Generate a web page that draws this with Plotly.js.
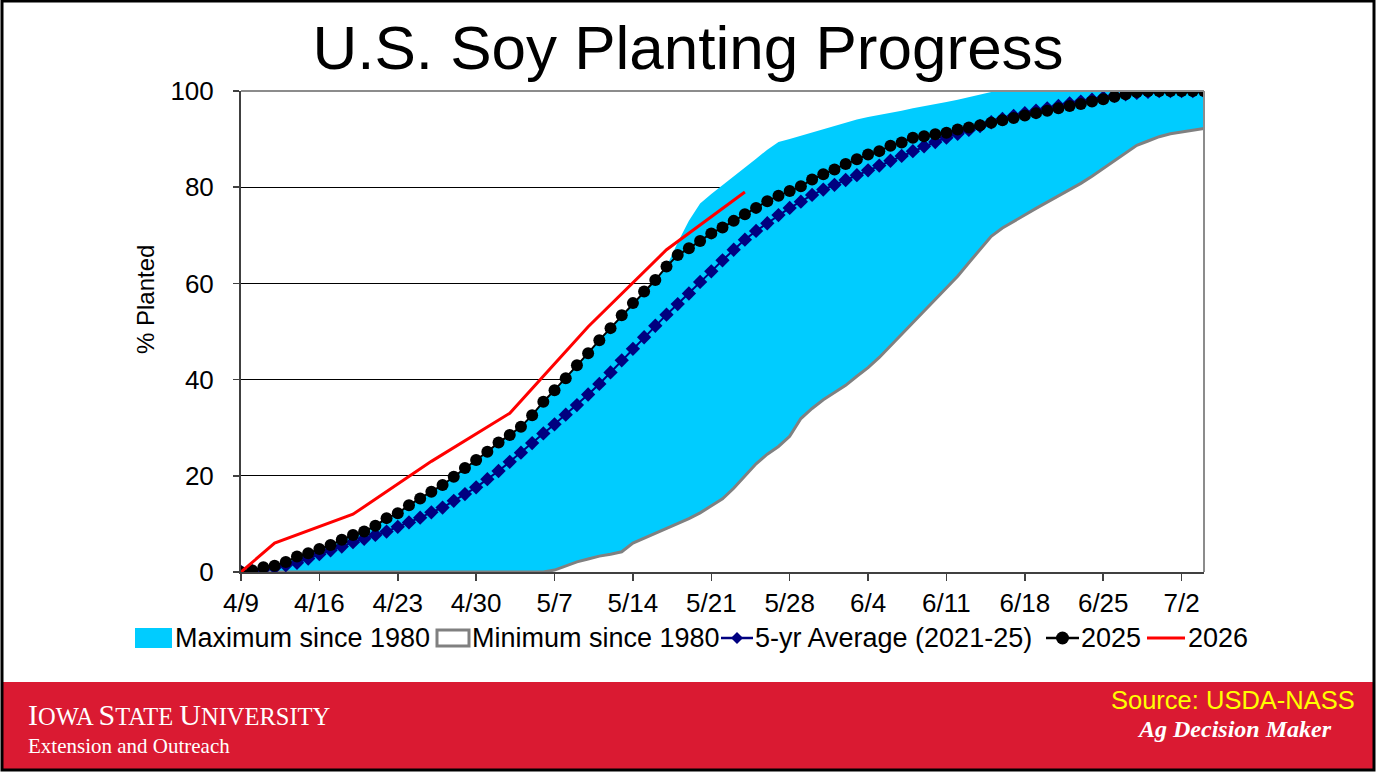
<!DOCTYPE html>
<html>
<head>
<meta charset="utf-8">
<script src="https://cdn.plot.ly/plotly-3.0.1.min.js"></script>
<style>
html,body{margin:0;padding:0;background:#fff;}
#chart{width:1376px;height:772px;}
</style>
</head>
<body>
<div id="chart"></div>
<script>
// ---- data (day offsets from 4/9) ----
const dayIndex = [0,1,2,3,4,5,6,7,8,9,10,11,12,13,14,15,16,17,18,19,20,21,22,23,24,25,26,27,28,29,30,31,32,33,34,35,36,37,38,39,40,41,42,43,44,45,46,47,48,49,50,51,52,53,54,55,56,57,58,59,60,61,62,63,64,65,66,67,68,69,70,71,72,73,74,75,76,77,78,79,80,81,82,83,84,85,86];
const tickDays = [0,7,14,21,28,35,42,49,56,63,70,77,84];
const tickLabels = ["4/9","4/16","4/23","4/30","5/7","5/14","5/21","5/28","6/4","6/11","6/18","6/25","7/2"];
const yTicks = [0,20,40,60,80,100];

const seriesNames = ["Maximum since 1980","Minimum since 1980","5-yr Average (2021-25)","2025","2026"];

const maxSince1980 = [0,0.3,1.0,1.3,2.1,3.2,3.9,4.8,5.6,6.7,7.7,8.4,9.6,11.2,12.2,13.9,15.3,16.7,18.1,19.8,21.6,23.3,25.0,26.9,28.5,30.2,32.6,35.4,37.8,40.3,43.0,45.5,48.2,50.7,53.4,55.9,58.3,60.7,63.5,
  68.5,73.0,76.6,78.6,80.4,82.2,84.1,85.9,87.8,89.4,90.0,90.7,91.4,92.1,92.7,93.4,94.1,94.6,95.0,95.5,95.9,96.4,96.8,97.3,97.7,98.2,98.7,99.2,99.8,
  100,100,100,100,100,100,100,100,100,100,100,100,100,100,100,100,100,100,100];

const minSince1980 = [0,0,0,0,0,0,0,0,0,0,0,0,0,0,0,0,0,0,0,0,0,0,0,0,0,0,0,0,
  0.4,1.3,2.1,2.7,3.3,3.7,4.2,6.0,7.0,8.1,9.1,10.1,11.1,12.3,13.7,15.2,17.4,19.9,22.5,24.5,26.1,28.2,31.9,34.0,35.8,37.3,38.8,40.7,42.5,44.6,47.0,49.4,
  51.7,54.1,56.5,58.9,61.5,64.3,67.0,69.8,71.5,72.9,74.2,75.6,76.9,78.2,79.5,80.8,82.3,83.9,85.6,87.2,88.7,89.6,90.5,91.1,91.5,91.9,92.2];

const avg5yr = [0,0.2,0.5,0.9,1.4,1.9,2.8,3.7,4.5,5.3,6.2,6.9,7.7,8.4,9.4,10.3,11.3,12.4,13.4,14.8,16.2,17.6,19.3,21.0,22.9,24.8,26.8,28.8,30.7,32.7,34.7,36.9,39.1,41.5,44.0,46.4,48.8,51.2,53.5,55.7,57.9,60.3,62.5,64.8,67.0,69.1,70.9,72.5,74.2,75.7,77.0,78.4,79.5,80.5,81.5,82.5,83.5,84.5,85.5,86.5,87.5,88.5,89.4,90.3,91.1,91.9,92.7,93.5,94.2,94.8,95.4,95.9,96.4,96.9,97.4,97.8,98.2,98.6,99.0,99.3,99.6,99.8,100,100,100,100,100];

const y2025 = [0,0.3,1.0,1.3,2.1,3.2,3.9,4.8,5.6,6.7,7.7,8.4,9.6,11.2,12.2,13.9,15.3,16.7,18.1,19.8,21.6,23.3,25.0,26.9,28.5,30.2,32.6,35.4,37.8,40.3,43.0,45.5,48.2,50.7,53.4,55.9,58.3,60.7,63.5,65.9,67.3,68.8,70.4,71.6,73.0,74.4,75.7,77.1,78.2,79.2,80.2,81.6,82.7,83.7,84.8,85.8,86.8,87.5,88.6,89.3,90.3,90.6,91.0,91.3,92.0,92.4,92.9,93.4,93.9,94.4,94.9,95.4,95.9,96.4,96.9,97.3,97.8,98.3,98.8,99.3,99.8,100,100,100,100,100,100];

const days2026 = [0,3,10,17,24,31,38,45];
const y2026 = [0,6,12,23,33,51,67,79];

// ---- styles ----
const C_MAX = '#00CCFF', C_MIN = '#808080', C_AVG = '#000080', C_25 = '#000000', C_26 = '#FF0000';
const SANS = 'Liberation Sans, Arial, sans-serif';
const SERIF = 'Liberation Serif, Times New Roman, serif';

// ---- layout geometry (pixels) ----
const W = 1376, H = 772;
const PL = 241, PR = 1204, PT = 91, PB = 572;
const px = v => (v - PL) / (PR - PL);
const py = v => (PB - v) / (PB - PT);

const traces = [
  {x: dayIndex, y: maxSince1980, name: seriesNames[0], type: 'scatter', mode: 'lines',
   fill: 'tozeroy', fillcolor: C_MAX, line: {color: C_MAX, width: 0}},
  {x: dayIndex, y: minSince1980, name: seriesNames[1], type: 'scatter', mode: 'lines',
   fill: 'tozeroy', fillcolor: '#FFFFFF', line: {color: C_MIN, width: 3}},
  {x: dayIndex, y: avg5yr, name: seriesNames[2], type: 'scatter', mode: 'lines+markers',
   line: {color: C_AVG, width: 2}, marker: {symbol: 'diamond', size: 11, color: C_AVG}},
  {x: dayIndex, y: y2025, name: seriesNames[3], type: 'scatter', mode: 'lines+markers',
   line: {color: C_25, width: 2}, marker: {symbol: 'circle', size: 12, color: C_25}},
  {x: days2026, y: y2026, name: seriesNames[4], type: 'scatter', mode: 'lines',
   line: {color: C_26, width: 3}}
];

// ---- custom legend (boxes like the original) ----
const LY = 638;
const legendShapes = [
  {type: 'rect', xref: 'paper', yref: 'paper', x0: px(135), x1: px(172), y0: py(628), y1: py(648),
   fillcolor: C_MAX, line: {width: 0}},
  {type: 'rect', xref: 'paper', yref: 'paper', x0: px(437), x1: px(469), y0: py(630), y1: py(646),
   fillcolor: '#FFFFFF', line: {color: C_MIN, width: 3}},
  {type: 'line', xref: 'paper', yref: 'paper', x0: px(721), x1: px(753), y0: py(LY), y1: py(LY),
   line: {color: C_AVG, width: 2.5}},
  {type: 'path', xref: 'paper', yref: 'paper',
   path: 'M' + px(737) + ',' + py(LY - 6) + ' L' + px(743) + ',' + py(LY) + ' L' + px(737) + ',' + py(LY + 6) + ' L' + px(731) + ',' + py(LY) + ' Z',
   fillcolor: C_AVG, line: {width: 0}},
  {type: 'line', xref: 'paper', yref: 'paper', x0: px(1046), x1: px(1079), y0: py(LY), y1: py(LY),
   line: {color: C_25, width: 2.5}},
  {type: 'circle', xref: 'paper', yref: 'paper', x0: px(1056), x1: px(1069), y0: py(LY - 6.5), y1: py(LY + 6.5),
   fillcolor: C_25, line: {width: 0}},
  {type: 'line', xref: 'paper', yref: 'paper', x0: px(1147), x1: px(1185), y0: py(LY), y1: py(LY),
   line: {color: C_26, width: 3}}
];
const legendTextX = [173, 470, 753, 1079, 1186];
const legendAnnotations = seriesNames.map((n, i) => ({
  text: n, xref: 'paper', yref: 'paper', x: px(legendTextX[i]), y: py(LY), xanchor: 'left', yanchor: 'middle',
  showarrow: false, font: {family: SANS, size: 27, color: '#000000'}
}));

const layout = {
  width: W, height: H,
  margin: {l: PL, r: W - PR, t: PT, b: H - PB, pad: 0},
  paper_bgcolor: '#FFFFFF', plot_bgcolor: '#FFFFFF',
  font: {family: SANS, color: '#000000'},
  title: {text: 'U.S. Soy Planting Progress', x: 0.5, xanchor: 'center', y: 1 - 47 / H, yanchor: 'middle',
          font: {family: SANS, size: 62, color: '#000000'}},
  showlegend: false,
  xaxis: {range: [0, 86], tickmode: 'array', tickvals: tickDays, ticktext: tickLabels,
          showgrid: false, zeroline: false, showline: true, linecolor: '#404040', linewidth: 2,
          ticks: 'outside', ticklen: 7, tickwidth: 1.5, tickcolor: '#404040',
          tickfont: {size: 26, color: '#000000'}, ticklabelstandoff: 0, fixedrange: true},
  yaxis: {range: [0, 100], tickmode: 'array', tickvals: yTicks,
          showgrid: true, gridcolor: '#000000', gridwidth: 1, zeroline: false,
          showline: true, linecolor: '#404040', linewidth: 2,
          ticks: 'outside', ticklen: 6, tickwidth: 1.5, tickcolor: '#404040',
          tickfont: {size: 26, color: '#000000'}, ticklabelstandoff: 14, fixedrange: true},
  shapes: [
    {type: 'line', xref: 'paper', yref: 'paper', x0: 0, x1: 1, y0: 1, y1: 1, line: {color: '#8c8c8c', width: 2}, layer: 'above'},
    {type: 'line', xref: 'paper', yref: 'paper', x0: 1, x1: 1, y0: 0, y1: 1, line: {color: '#8c8c8c', width: 2}, layer: 'above'},
    {type: 'rect', xref: 'paper', yref: 'paper', x0: px(3), x1: px(1373), y0: py(682), y1: py(769),
     fillcolor: '#DA1A32', line: {width: 0}, layer: 'above'},
    {type: 'rect', xref: 'paper', yref: 'paper', x0: px(2), x1: px(1374), y0: py(1), y1: py(770),
     fillcolor: 'rgba(0,0,0,0)', line: {color: '#000000', width: 3}, layer: 'above'}
  ].concat(legendShapes),
  annotations: [
    {text: '% Planted', textangle: -90, xref: 'paper', yref: 'paper', x: px(145), y: py(300),
     xanchor: 'center', yanchor: 'middle', showarrow: false, font: {family: SANS, size: 24, color: '#000000'}},
    {text: "<span style='font-size:30px'>I</span>OWA <span style='font-size:30px'>S</span>TATE <span style='font-size:30px'>U</span>NIVERSITY",
     xref: 'paper', yref: 'paper', x: px(26), y: py(714), xanchor: 'left', yanchor: 'middle', showarrow: false,
     font: {family: SERIF, size: 24.5, color: '#FFFFFF'}},
    {text: 'Extension and Outreach', xref: 'paper', yref: 'paper', x: px(26), y: py(746), xanchor: 'left', yanchor: 'middle',
     showarrow: false, font: {family: SERIF, size: 21, color: '#FFFFFF'}},
    {text: 'Source: USDA-NASS', xref: 'paper', yref: 'paper', x: px(1357), y: py(700), xanchor: 'right', yanchor: 'middle',
     showarrow: false, font: {family: SANS, size: 25.5, color: '#FFFF00'}},
    {text: '<b><i>Ag Decision Maker</i></b>', xref: 'paper', yref: 'paper', x: px(1234), y: py(729), xanchor: 'center', yanchor: 'middle',
     showarrow: false, font: {family: SERIF, size: 24, color: '#FFFFFF'}}
  ].concat(legendAnnotations)
};

Plotly.newPlot('chart', traces, layout, {displayModeBar: false, staticPlot: true});
</script>
</body>
</html>
